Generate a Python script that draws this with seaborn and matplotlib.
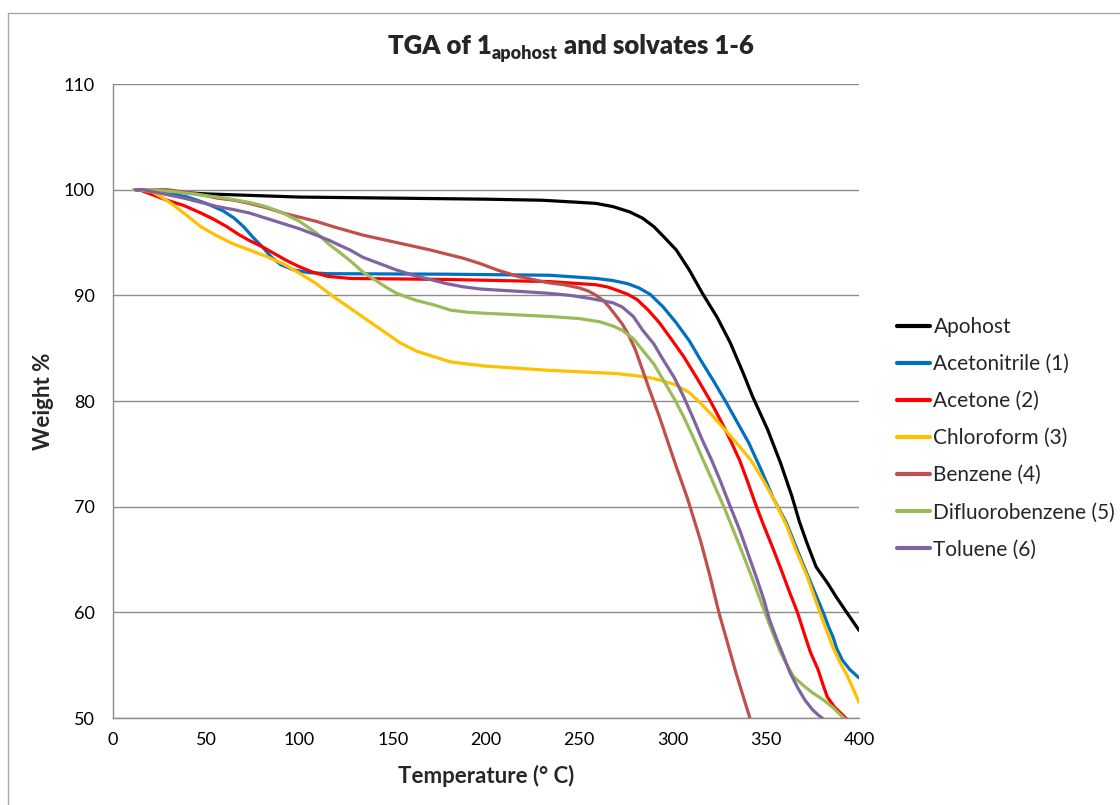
import numpy as np
import pandas as pd
import matplotlib
matplotlib.use("Agg")
import matplotlib.pyplot as plt
from matplotlib.lines import Line2D
import seaborn as sns

# Thermogravimetric traces: temperature (deg C) and remaining weight (%)
apohost_t = [12, 30, 50, 100, 150, 200, 230, 250, 259, 268, 277, 284, 290, 295, 302, 309, 316, 324, 331, 338,
             343, 351, 358, 364, 368, 372, 377, 383, 388, 393, 400]
apohost_w = [100, 99.8, 99.6, 99.3, 99.2, 99.1, 99.0, 98.8, 98.7, 98.4, 97.9, 97.3, 96.5, 95.6, 94.3, 92.4, 90.2,
             87.9, 85.5, 82.6, 80.4, 77.3, 74.1, 71.0, 68.6, 66.6, 64.3, 62.8, 61.4, 60.1, 58.3]

acetonitrile_t = [12, 25, 40, 50, 59, 65, 70, 75, 80, 85, 90, 97, 105, 115, 180, 234, 259, 268, 276, 282, 288,
                  295, 302, 309, 315, 322, 329, 335, 341, 348, 354, 361, 366, 372, 377, 381, 384, 386, 388, 391,
                  395, 400]
acetonitrile_w = [100, 99.8, 99.3, 98.7, 98.0, 97.3, 96.5, 95.5, 94.6, 93.6, 92.9, 92.4, 92.15, 92.05, 92.0, 91.9,
                  91.6, 91.4, 91.1, 90.7, 90.1, 88.9, 87.4, 85.7, 83.9, 81.9, 79.8, 77.9, 76.0, 73.3, 70.8, 68.5,
                  66.3, 63.7, 61.6, 59.9, 58.5, 57.7, 56.6, 55.5, 54.6, 53.8]

acetone_t = [14, 20, 29, 38, 47, 54, 61, 67, 73, 80, 86, 93, 100, 107, 115, 127, 180, 234, 259, 265, 270, 276,
             281, 287, 293, 300, 306, 313, 320, 326, 331, 336, 340, 344, 348.5, 354, 359, 363, 367, 371, 374,
             378, 381, 383, 387, 390, 394]
acetone_w = [100, 99.6, 99.0, 98.5, 97.8, 97.2, 96.5, 95.8, 95.2, 94.6, 94.0, 93.3, 92.7, 92.2, 91.8, 91.6, 91.5,
             91.3, 91.0, 90.8, 90.5, 90.1, 89.6, 88.6, 87.4, 85.7, 84.2, 82.2, 80.1, 78.1, 76.3, 74.4, 72.5, 70.5,
             68.4, 66.0, 63.7, 61.8, 60.0, 57.8, 56.2, 54.6, 53.0, 52.0, 51.0, 50.5, 49.8]

chloroform_t = [14, 21, 27, 32, 40, 47, 55, 64, 73, 82, 91, 100, 109, 118, 127, 136, 145, 154, 163, 172, 181,
                190, 200, 234, 270, 280, 288, 295, 302, 309, 315, 321, 327, 335, 342, 348, 354, 361, 366, 372,
                379, 386, 390, 394, 400]
chloroform_w = [100, 99.8, 99.2, 98.6, 97.5, 96.5, 95.7, 94.9, 94.3, 93.7, 93.0, 92.1, 91.1, 89.9, 88.8, 87.7,
                86.6, 85.5, 84.7, 84.2, 83.7, 83.5, 83.3, 82.9, 82.6, 82.4, 82.2, 81.9, 81.5, 80.8, 79.8, 78.7,
                77.5, 75.9, 74.4, 72.7, 70.8, 68.3, 66.0, 63.5, 60.0, 56.7, 55.2, 53.9, 51.5]

benzene_t = [12, 29, 45, 56, 65, 73, 82, 91, 100, 109, 118, 126, 134, 152, 170, 188, 197, 206, 217, 225, 233,
             242, 250, 255, 259, 263, 266, 270, 273, 276, 280, 284, 288, 293, 297, 302, 308, 315, 320, 325, 330,
             334, 338, 341.5]
benzene_w = [100, 100, 99.6, 99.2, 99.0, 98.7, 98.3, 97.8, 97.4, 97.0, 96.5, 96.1, 95.7, 95.0, 94.3, 93.5, 93.0,
             92.4, 91.8, 91.5, 91.2, 91.0, 90.7, 90.4, 90.0, 89.5, 88.9, 88.0, 87.3, 86.4, 84.9, 82.9, 80.9,
             78.5, 76.4, 73.8, 70.8, 66.8, 63.5, 59.9, 56.8, 54.3, 52.0, 50.0]

difluorobenzene_t = [11, 20, 33, 47, 60, 73, 82, 91, 100, 109, 116, 122, 127, 134, 141, 147, 152, 158, 163, 172,
                     181, 190, 200, 234, 250, 261, 268, 273, 279, 284, 290, 295, 301, 306, 311, 316, 322, 328,
                     333, 338, 343, 347, 351, 355, 358, 362, 365, 370, 375, 381, 386, 390, 393]
difluorobenzene_w = [100, 100, 99.8, 99.5, 99.2, 98.8, 98.4, 97.8, 97.0, 95.9, 94.8, 94.0, 93.3, 92.2, 91.4,
                     90.7, 90.2, 89.8, 89.5, 89.1, 88.6, 88.4, 88.3, 88.0, 87.8, 87.5, 87.1, 86.7, 85.9, 84.8,
                     83.5, 82.0, 80.2, 78.5, 76.6, 74.6, 72.2, 69.8, 67.6, 65.4, 63.1, 61.2, 59.3, 57.5, 56.2,
                     54.8, 53.9, 53.1, 52.4, 51.7, 51.0, 50.3, 49.8]

toluene_t = [12, 16, 27, 38, 47, 56, 65, 73, 82, 91, 100, 109, 116, 122, 127, 134, 143, 152, 161, 170, 179, 188,
             197, 206, 220, 233, 245, 256, 262, 268, 273, 279, 284, 290, 295, 301, 306, 311, 316, 321, 325.5,
             331, 336, 341, 345, 349, 352, 356, 359, 363, 367, 371, 375, 378, 381]
toluene_w = [100, 100, 99.6, 99.2, 98.8, 98.4, 98.1, 97.8, 97.3, 96.8, 96.3, 95.7, 95.2, 94.7, 94.3, 93.6, 93.0,
             92.4, 91.9, 91.5, 91.1, 90.8, 90.6, 90.5, 90.35, 90.2, 90.0, 89.7, 89.5, 89.3, 88.9, 88.0, 86.7,
             85.4, 83.9, 82.2, 80.4, 78.4, 76.3, 74.4, 72.5, 70.0, 67.8, 65.3, 63.3, 61.2, 59.3, 57.4, 56.1,
             54.3, 52.9, 51.7, 50.8, 50.3, 49.9]

series_names = ["Apohost", "Acetonitrile (1)", "Acetone (2)", "Chloroform (3)",
                "Benzene (4)", "Difluorobenzene (5)", "Toluene (6)"]
series_t = [apohost_t, acetonitrile_t, acetone_t, chloroform_t, benzene_t, difluorobenzene_t, toluene_t]
series_w = [apohost_w, acetonitrile_w, acetone_w, chloroform_w, benzene_w, difluorobenzene_w, toluene_w]
colors = ["#000000", "#0070C0", "#FF0000", "#FFC000", "#C0504D", "#9BBB59", "#8064A2"]

x_ticks = [0, 50, 100, 150, 200, 250, 300, 350, 400]
y_ticks = [50, 60, 70, 80, 90, 100, 110]

frames = []
for name, t, w in zip(series_names, series_t, series_w):
    frames.append(pd.DataFrame({"Temperature": t, "Weight": w, "Sample": name}))
df = pd.concat(frames, ignore_index=True)

sns.set_theme(style="white")
plt.rcParams["font.family"] = ["Lato", "DejaVu Sans"]

W_PX, H_PX = 1120, 805
fig = plt.figure(figsize=(W_PX / 100, H_PX / 100), dpi=100)
ax = fig.add_axes([113 / W_PX, 1 - 718 / H_PX, (859 - 113) / W_PX, (718 - 84) / H_PX])

sns.lineplot(data=df, x="Temperature", y="Weight", hue="Sample", hue_order=series_names,
             palette=dict(zip(series_names, colors)), estimator=None, sort=False,
             units="Sample", linewidth=2.3, ax=ax)
for line in ax.get_lines():
    line.set_solid_joinstyle("round")
    line.set_solid_capstyle("round")

ax.set_xlim(0, 400)
ax.set_ylim(50, 110)
ax.set_xticks(x_ticks)
ax.set_yticks(y_ticks)
ax.tick_params(axis="both", length=0, labelsize=13, colors="#000000")
ax.tick_params(axis="x", pad=10)
ax.tick_params(axis="y", pad=13)

ax.grid(axis="y", color="#8C8C8C", linewidth=1.0)
ax.grid(axis="x", visible=False)
ax.set_axisbelow(True)
for side in ["top", "right"]:
    ax.spines[side].set_visible(False)
for side in ["left", "bottom"]:
    ax.spines[side].set_color("#8C8C8C")
    ax.spines[side].set_linewidth(1.0)

ax.set_xlabel("Temperature (° C)", fontsize=16, fontweight="bold")
ax.set_ylabel("Weight %", fontsize=16, fontweight="bold")
ax.xaxis.set_label_coords(0.5, (718 - 776) / 634)
ax.xaxis.label.set_va("center")
ax.yaxis.set_label_coords((43 - 113) / 746, 0.5)
ax.yaxis.label.set_va("center")

# Title with a subscripted "apohost", laid out piece by piece
fig.canvas.draw()
renderer = fig.canvas.get_renderer()
title_parts = [("TGA of 1", 18.5, 53.5), ("apohost", 13, 58.5), (" and solvates 1-6", 18.5, 53.5)]
texts = []
for s, size, base in title_parts:
    texts.append(fig.text(0, 1 - base / H_PX, s, fontsize=size, fontweight="heavy",
                          ha="left", va="baseline"))
widths = [t.get_window_extent(renderer).width for t in texts]
x = 571 - sum(widths) / 2
for t, w in zip(texts, widths):
    t.set_x(x / W_PX)
    x += w

handles = [Line2D([0], [0], color=c, linewidth=3) for c in colors]
ax.legend(handles, series_names, loc="upper left",
          bbox_to_anchor=(897 / W_PX, 1 - 317 / H_PX), bbox_transform=fig.transFigure,
          frameon=False, fontsize=15, handlelength=1.6, handletextpad=0.15,
          labelspacing=0.82, borderpad=0, borderaxespad=0)

# outer chart border
fig.add_artist(Line2D([8 / W_PX, 8 / W_PX], [0, 1 - 13 / H_PX], transform=fig.transFigure,
                      color="#A6A6A6", linewidth=1.0))
fig.add_artist(Line2D([8 / W_PX, 1], [1 - 13 / H_PX, 1 - 13 / H_PX], transform=fig.transFigure,
                      color="#A6A6A6", linewidth=1.0))

fig.savefig("out.png", dpi=100)
